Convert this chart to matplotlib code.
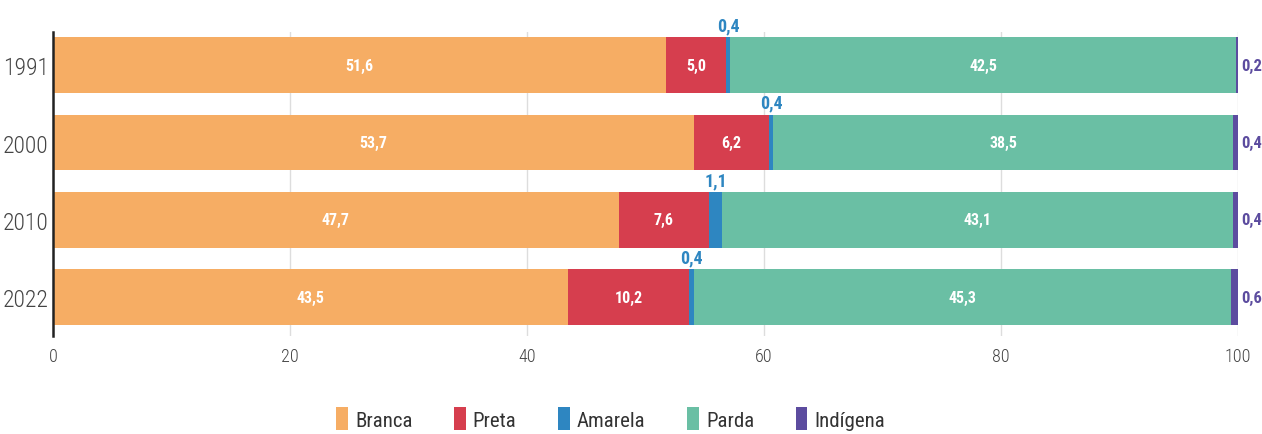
import numpy as np
import matplotlib
matplotlib.use("Agg")
import matplotlib.pyplot as plt

plt.rcParams['font.family'] = ['Roboto Condensed', 'Roboto', 'DejaVu Sans']

# DATA
years = ['1991', '2000', '2010', '2022']
categories = ['Branca', 'Preta', 'Amarela', 'Parda', 'Indígena']
branca = [51.6, 53.7, 47.7, 43.5]
preta = [5.0, 6.2, 7.6, 10.2]
amarela = [0.4, 0.4, 1.1, 0.4]
parda = [42.5, 38.5, 43.1, 45.3]
indigena = [0.2, 0.4, 0.4, 0.6]

colors = ['#F6AD64', '#D63E4E', '#2E86C1', '#6ABFA4', '#5C4C9F']

series = np.array([branca, preta, amarela, parda, indigena])
# chart shows shares normalised to 100 %
shares = series / series.sum(axis=0) * 100

fig = plt.figure(figsize=(12.62, 4.35), dpi=100)
ax = fig.add_axes([0.042, 0.2253, 0.939, 0.6987])

ypos = np.arange(len(years))
left = np.zeros(len(years))
for i, cat in enumerate(categories):
    bars = ax.barh(ypos, shares[i], left=left, height=0.72, color=colors[i],
                   label=cat, zorder=2)
    for j, b in enumerate(bars):
        txt = f"{series[i][j]:.1f}".replace('.', ',')
        cx = left[j] + shares[i][j] / 2
        if cat == 'Amarela':
            ax.text(cx, ypos[j] - 0.40, txt, ha='center', va='bottom',
                    color=colors[i], fontsize=13, fontweight='bold')
        elif cat == 'Indígena':
            ax.text(100.25, ypos[j], txt, ha='left', va='center',
                    color=colors[i], fontsize=12, fontweight='bold')
        else:
            ax.text(cx, ypos[j], txt, ha='center', va='center',
                    color='white', fontsize=11.5, fontweight='bold')
    left = left + shares[i]

ax.set_xlim(0, 100)
ax.set_ylim(3.5, -0.43)
ax.set_yticks(ypos)
ax.set_yticklabels(years, fontsize=17, color='#444444', fontweight='light')
ax.set_xticks([0, 20, 40, 60, 80, 100])
ax.tick_params(axis='x', length=0, labelsize=13, labelcolor='#444444', pad=8)
ax.tick_params(axis='y', length=0, pad=3)
for lab in ax.get_xticklabels():
    lab.set_fontweight('light')
ax.grid(axis='x', color='#dddddd', linewidth=1, zorder=0)
for s in ['top', 'right', 'bottom']:
    ax.spines[s].set_visible(False)
ax.spines['left'].set_color('#222222')
ax.spines['left'].set_linewidth(1.8)
ax.spines['left'].set_zorder(3)

fig.legend(loc='center', bbox_to_anchor=(0.484, 0.035), ncol=5, frameon=False,
           fontsize=15, handlelength=0.55, handleheight=1.3, handletextpad=0.35,
           columnspacing=2.0, labelcolor='#333333')

fig.savefig('out.png', dpi=100)
